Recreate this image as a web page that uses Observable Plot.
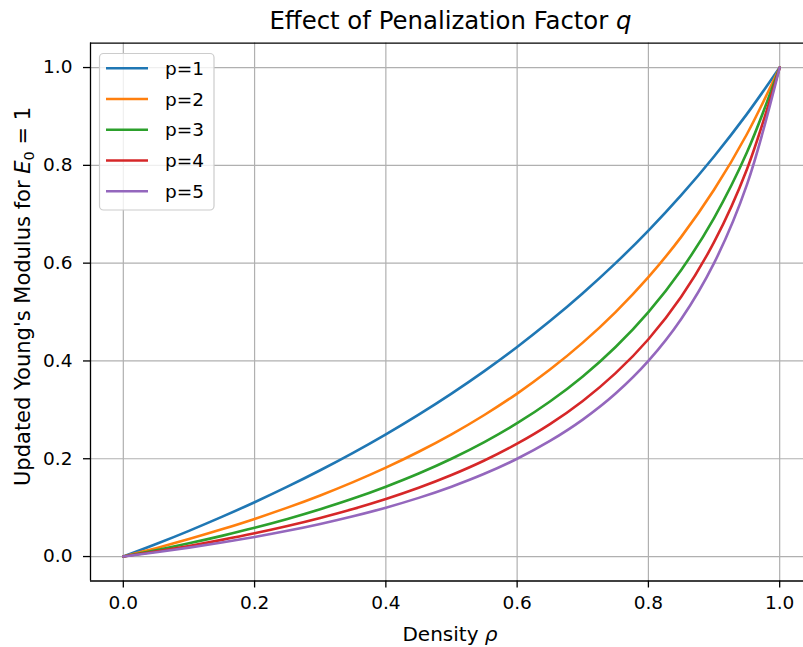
<!DOCTYPE html>
<html><head><meta charset="utf-8">
<script src="https://cdn.jsdelivr.net/npm/d3@7"></script>
<script src="https://cdn.jsdelivr.net/npm/@observablehq/plot@0.6"></script>
<style>
body{margin:0;background:#fff;}
#chart{position:relative;width:803px;height:647px;overflow:hidden;background:#fff;}
</style>
</head><body><div id="chart"></div>
<script>
// Density values (x)
const rho = [0,0.05,0.1,0.15,0.2,0.25,0.3,0.35,0.4,0.45,0.5,0.55,0.6,0.65,0.7,0.75,0.8,0.85,0.9,0.95,1];
// Updated Young's modulus for each penalization factor
const p1 = [0,0.0256,0.0526,0.0811,0.1111,0.1429,0.1765,0.2121,0.25,0.2903,0.3333,0.3793,0.4286,0.4815,0.5385,0.6,0.6667,0.7391,0.8182,0.9048,1];
const p2 = [0,0.0172,0.0357,0.0556,0.0769,0.1,0.125,0.1522,0.1818,0.2143,0.25,0.2895,0.3333,0.3824,0.4375,0.5,0.5714,0.6538,0.75,0.8636,1];
const p3 = [0,0.0130,0.0270,0.0423,0.0588,0.0769,0.0968,0.1186,0.1429,0.1698,0.2,0.2340,0.2727,0.3171,0.3684,0.4286,0.5,0.5862,0.6923,0.8261,1];
const p4 = [0,0.0104,0.0217,0.0341,0.0476,0.0625,0.0790,0.0972,0.1176,0.1406,0.1667,0.1964,0.2308,0.2708,0.3182,0.375,0.4444,0.5313,0.6429,0.7917,1];
const p5 = [0,0.0087,0.0182,0.0286,0.04,0.0526,0.0667,0.0824,0.1,0.12,0.1429,0.1692,0.2,0.2364,0.28,0.3333,0.4,0.4857,0.6,0.76,1];
const seriesNames = ["p=1","p=2","p=3","p=4","p=5"];
const seriesValues = [p1,p2,p3,p4,p5];
const colors = ["#1f77b4","#ff7f0e","#2ca02c","#d62728","#9467bd"];
const xTicks = [0,0.2,0.4,0.6,0.8,1.0];
const yTicks = [0,0.2,0.4,0.6,0.8,1.0];

const data = [];
seriesValues.forEach((vals,i)=>vals.forEach((v,j)=>data.push({rho:rho[j],E:v,series:seriesNames[i]})));

const FONT = "DejaVu Sans";
const plot = Plot.plot({
  width:803, height:647,
  marginLeft:90, marginRight:0, marginTop:42.6, marginBottom:66.5,
  style:{fontFamily:FONT, fontSize:"18.5px", background:"#fff", color:"#000"},
  x:{domain:[-0.05,1.0363]},
  y:{domain:[-0.05,1.05]},
  color:{domain:seriesNames, range:colors},
  marks:[
    Plot.gridX(xTicks,{stroke:"#b0b0b0",strokeOpacity:1,strokeWidth:1.2}),
    Plot.gridY(yTicks,{stroke:"#b0b0b0",strokeOpacity:1,strokeWidth:1.2}),
    Plot.line(data,{x:"rho",y:"E",stroke:"series",strokeWidth:2.6,curve:"catmull-rom"}),
    Plot.ruleX([-0.05],{stroke:"#000",strokeWidth:1.3}),
    Plot.ruleY([-0.05,1.05],{stroke:"#000",strokeWidth:1.3}),
    Plot.axisX(xTicks,{tickFormat:d3.format(".1f"),tickSize:7,tickPadding:8,label:null,strokeWidth:1.3}),
    Plot.axisY(yTicks,{tickFormat:d3.format(".1f"),tickSize:7,tickPadding:11,label:null,strokeWidth:1.3})
  ]
});
document.getElementById("chart").appendChild(plot);

const svg = d3.select(plot);
// Title
const t = svg.append("text").attr("x",450.5).attr("y",29.3).attr("text-anchor","middle")
  .attr("font-family",FONT).attr("font-size",24.4).attr("fill","#000");
t.append("tspan").text("Effect of Penalization Factor ");
t.append("tspan").attr("font-style","italic").text("q");
// X label
const xl = svg.append("text").attr("x",450).attr("y",641).attr("text-anchor","middle")
  .attr("font-family",FONT).attr("font-size",20).attr("fill","#000");
xl.append("tspan").text("Density ");
xl.append("tspan").attr("font-style","italic").text("ρ");
// Y label
const yl = svg.append("text").attr("transform","translate(30,296.5) rotate(-90)").attr("text-anchor","middle")
  .attr("font-family",FONT).attr("font-size",21).attr("fill","#000");
yl.append("tspan").text("Updated Young's Modulus for ");
yl.append("tspan").attr("font-style","italic").text("E");
yl.append("tspan").attr("font-size",14.5).attr("dy",4).text("0");
yl.append("tspan").attr("dy",-4).text(" = 1");

// Legend
const lg = svg.append("g").attr("text-anchor","start");
lg.append("rect").attr("x",99.5).attr("y",53.5).attr("width",114.5).attr("height",156.5)
  .attr("rx",4).attr("fill","#fff").attr("fill-opacity",0.8).attr("stroke","#cccccc").attr("stroke-width",1.2);
seriesNames.forEach((name,i)=>{
  const cy = 68.3 + i*30.75;
  lg.append("line").attr("x1",106).attr("x2",148).attr("y1",cy).attr("y2",cy)
    .attr("stroke",colors[i]).attr("stroke-width",2.6);
  lg.append("text").attr("x",165).attr("y",cy).attr("dy","0.35em").attr("text-anchor","start")
    .attr("font-family",FONT).attr("font-size",18.5).attr("fill","#000").text(name);
});
</script>
</body></html>
